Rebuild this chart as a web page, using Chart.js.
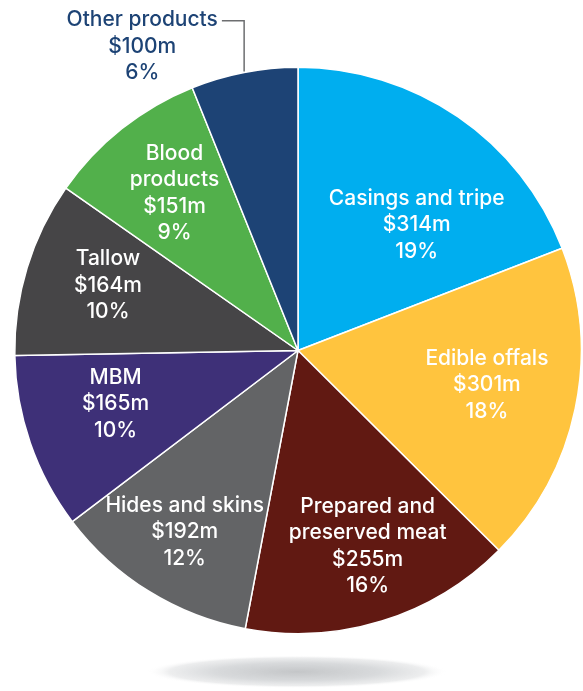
<!DOCTYPE html>
<html>
<head>
<meta charset="utf-8">
<script src="https://cdn.jsdelivr.net/npm/chart.js@4/dist/chart.umd.min.js"></script>
<style>
  html, body { margin: 0; padding: 0; background: #ffffff; }
  canvas { display: block; }
</style>
</head>
<body>
<canvas id="chart" width="583" height="691"></canvas>
<script>
// Co-product export values, clockwise from the top of the pie
const categories = [
  ['Casings and tripe'],
  ['Edible offals'],
  ['Prepared and', 'preserved meat'],
  ['Hides and skins'],
  ['MBM'],
  ['Tallow'],
  ['Blood', 'products'],
  ['Other products']
];
const valuesMillions = [314, 301, 255, 192, 165, 164, 151, 100];
const sharePercent = [19, 18, 16, 12, 10, 10, 9, 6];

const sliceColors = ['#00AEEF', '#FFC43E', '#611912', '#636466', '#3E3078', '#464547', '#52B04B', '#1D4375'];

// Label block centres, in units of the pie radius from the pie centre
const labelPlacement = [
  [0.419, -0.443],
  [0.667, 0.122],
  [0.246, 0.690],
  [-0.400, 0.640],
  [-0.644, 0.188],
  [-0.671, -0.229],
  [-0.436, -0.556],
  [-0.550, -1.074]
];
// Slice whose label sits outside the pie with a leader line
const outsideLabelIndex = 7;

const FONT = '500 21px Inter, "Open Sans", Lato, sans-serif';
const LINE_H = 26.5;

const shadowPlugin = {
  id: 'floorShadow',
  beforeDatasetsDraw(chart) {
    const meta = chart.getDatasetMeta(0);
    const arc = meta.data[0];
    if (!arc) return;
    const { x, y, outerRadius } = arc.getProps(['x', 'y', 'outerRadius'], true);
    const ctx = chart.ctx;
    const cx = x - 1;
    const cy = y + outerRadius + 38;
    const rx = outerRadius * 0.53;
    const ry = outerRadius * 0.058;
    ctx.save();
    ctx.translate(cx, cy);
    ctx.scale(rx / ry, 1);
    const g = ctx.createRadialGradient(0, 0, 0, 0, 0, ry);
    g.addColorStop(0, 'rgba(196,198,200,1)');
    g.addColorStop(0.55, 'rgba(214,216,218,0.95)');
    g.addColorStop(0.85, 'rgba(232,233,234,0.8)');
    g.addColorStop(1, 'rgba(255,255,255,0)');
    ctx.fillStyle = g;
    ctx.beginPath();
    ctx.arc(0, 0, ry, 0, Math.PI * 2);
    ctx.fill();
    ctx.restore();
  }
};

const labelPlugin = {
  id: 'sliceLabels',
  afterDatasetsDraw(chart) {
    const meta = chart.getDatasetMeta(0);
    const ctx = chart.ctx;
    ctx.save();
    ctx.font = FONT;
    ctx.textAlign = 'center';
    ctx.textBaseline = 'middle';
    meta.data.forEach((arc, i) => {
      const p = arc.getProps(['x', 'y', 'outerRadius', 'startAngle', 'endAngle'], true);
      const R = p.outerRadius;
      const lines = categories[i].concat(['$' + valuesMillions[i] + 'm', sharePercent[i] + '%']);
      const cx = p.x + labelPlacement[i][0] * R;
      const cy = p.y + labelPlacement[i][1] * R;
      const top = cy - (lines.length - 1) * LINE_H / 2;
      const outside = i === outsideLabelIndex;
      ctx.fillStyle = outside ? sliceColors[i] : '#ffffff';
      lines.forEach((t, k) => ctx.fillText(t, cx, top + k * LINE_H));

      if (outside) {
        // leader from the end of the first line to the slice's outer edge
        const mid = (p.startAngle + p.endAngle) / 2;
        const ex = p.x + Math.cos(mid) * R;
        const ey = p.y + Math.sin(mid) * R;
        const w = ctx.measureText(lines[0]).width;
        const sx = cx + w / 2 + 4;
        const sy = top + 1;
        ctx.strokeStyle = '#6d6e70';
        ctx.lineWidth = 1.5;
        ctx.beginPath();
        ctx.moveTo(sx, sy);
        ctx.lineTo(ex, sy);
        ctx.lineTo(ex, ey - 1);
        ctx.stroke();
      }
    });
    ctx.restore();
  }
};

new Chart(document.getElementById('chart'), {
  type: 'pie',
  data: {
    labels: categories.map(c => c.join(' ')),
    datasets: [{
      data: valuesMillions,
      backgroundColor: sliceColors,
      borderColor: '#ffffff',
      borderWidth: 1.5
    }]
  },
  options: {
    responsive: false,
    animation: false,
    layout: { padding: { left: 14, right: 1, top: 66, bottom: 56 } },
    plugins: {
      legend: { display: false },
      tooltip: { enabled: false }
    }
  },
  plugins: [shadowPlugin, labelPlugin]
});
</script>
</body>
</html>
